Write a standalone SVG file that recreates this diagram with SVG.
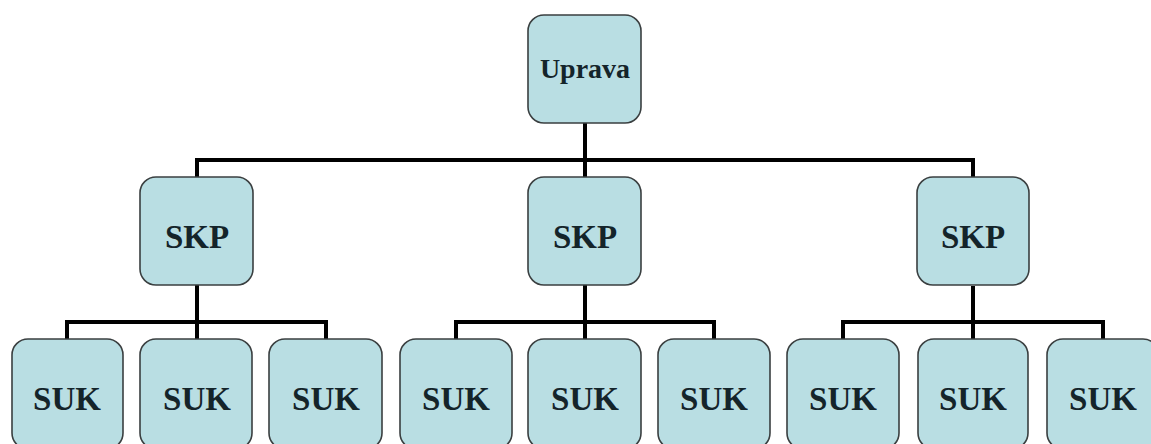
<svg xmlns="http://www.w3.org/2000/svg" width="1151" height="444" viewBox="0 0 1151 444">
<style>
.box{fill:#b9dee3;stroke:#3a3f40;stroke-width:1.6}
.lbl{font-family:"Liberation Serif","Times New Roman",serif;font-weight:bold;fill:#14242a;text-anchor:middle}
.big{font-size:33px}
.top{font-size:28px}
.ln{stroke:#000;stroke-width:4;fill:none}
</style>
<rect width="1151" height="444" fill="#ffffff"/>
<g id="connectors">
<path class="ln" d="M585 123V160M197 160H973M197 158V177M585 158V177M973 158V177"/>
<path class="ln" d="M197 285V322M67 322H326M67 320V339M197 320V339M326 320V339"/>
<path class="ln" d="M585 285V322M456 322H714M456 320V339M585 320V339M714 320V339"/>
<path class="ln" d="M973 286V322M843 322H1103M843 320V339M973 320V339M1103 320V339"/>
</g>
<g id="uprava"><rect class="box" x="528" y="15" width="113" height="108" rx="16"/><text class="lbl top" x="585" y="78">Uprava</text></g>
<g id="skp1"><rect class="box" x="140" y="177" width="113" height="108" rx="16"/><text class="lbl big" x="197" y="248">SKP</text></g>
<g id="skp2"><rect class="box" x="528" y="177" width="113" height="108" rx="16"/><text class="lbl big" x="585" y="248">SKP</text></g>
<g id="skp3"><rect class="box" x="917" y="177" width="112" height="108" rx="16"/><text class="lbl big" x="973" y="248">SKP</text></g>
<g id="suk1"><rect class="box" x="12" y="339" width="111" height="110" rx="16"/><text class="lbl big" x="67" y="410">SUK</text></g>
<g id="suk2"><rect class="box" x="140" y="339" width="112" height="110" rx="16"/><text class="lbl big" x="197" y="410">SUK</text></g>
<g id="suk3"><rect class="box" x="269" y="339" width="113" height="110" rx="16"/><text class="lbl big" x="326" y="410">SUK</text></g>
<g id="suk4"><rect class="box" x="400" y="339" width="112" height="110" rx="16"/><text class="lbl big" x="456" y="410">SUK</text></g>
<g id="suk5"><rect class="box" x="528" y="339" width="113" height="110" rx="16"/><text class="lbl big" x="585" y="410">SUK</text></g>
<g id="suk6"><rect class="box" x="658" y="339" width="112" height="110" rx="16"/><text class="lbl big" x="714" y="410">SUK</text></g>
<g id="suk7"><rect class="box" x="787" y="339" width="112" height="110" rx="16"/><text class="lbl big" x="843" y="410">SUK</text></g>
<g id="suk8"><rect class="box" x="918" y="339" width="110" height="110" rx="16"/><text class="lbl big" x="973" y="410">SUK</text></g>
<g id="suk9"><rect class="box" x="1047" y="339" width="112" height="110" rx="16"/><text class="lbl big" x="1103" y="410">SUK</text></g>
</svg>
